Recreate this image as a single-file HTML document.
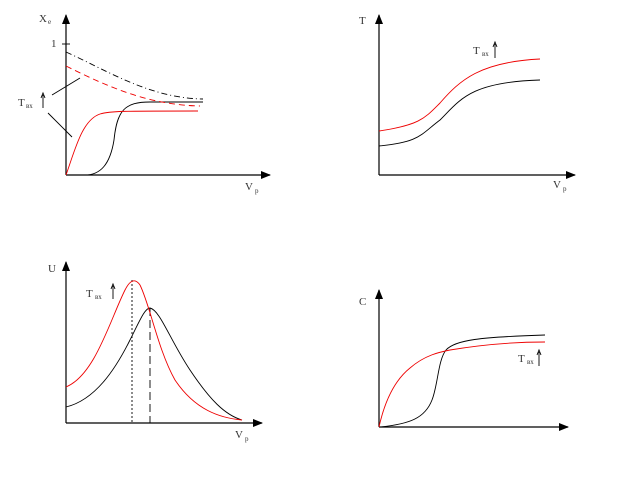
<!DOCTYPE html>
<html><head><meta charset="utf-8"><style>body{margin:0;background:#fff}svg{display:block}text{font-family:"Liberation Serif",serif;font-size:11px;fill:#333}</style></head><body>
<svg width="623" height="478" viewBox="0 0 623 478" xmlns="http://www.w3.org/2000/svg" fill="none" stroke-width="0.9">
<defs><marker id="a" markerWidth="10" markerHeight="8" refX="9" refY="4" orient="auto" markerUnits="userSpaceOnUse"><path d="M0,0 L10,4 L0,8z" fill="#000"/></marker></defs>
<!-- TL -->
<g stroke="#000">
<line x1="66" y1="175" x2="66" y2="15" marker-end="url(#a)" stroke-width="1.2"/>
<line x1="66" y1="175" x2="270" y2="175" marker-end="url(#a)" stroke-width="1.2"/>
<line x1="62" y1="44" x2="70" y2="44"/>
<path d="M66,52 C110,72 150,98 203,99" stroke-dasharray="6,3,1,3"/>
<path d="M85,175 C100,175 110,165 114,140 C117,110 125,102 150,102 L203,102"/>
<line x1="52" y1="95" x2="80" y2="78"/>
<line x1="48" y1="113" x2="72" y2="137"/>
</g>
<path d="M66,66 C110,88 150,105 200,106" stroke="#e00" stroke-dasharray="6,4"/>
<path d="M66,175 C75,150 82,120 100,114 C110,111 120,111 198,111" stroke="#e00"/>
<text x="39" y="22">X</text><text x="48" y="24" style="font-size:7px">e</text>
<text x="51" y="47">1</text>
<text x="18" y="106">T</text><text x="26" y="108" style="font-size:7px">вх</text>
<path d="M43,108 V95 M41,98 L43,93 L45,98" stroke="#000"/>
<text x="245" y="190">V</text><text x="255" y="193" style="font-size:7px">p</text>
<!-- TR -->
<g stroke="#000">
<line x1="379" y1="175" x2="379" y2="15" marker-end="url(#a)" stroke-width="1.2"/>
<line x1="379" y1="175" x2="575" y2="175" marker-end="url(#a)" stroke-width="1.2"/>
<path d="M379,146 C420,142 420,135 440,120 C460,100 470,82 540,80"/>
</g>
<path d="M379,131 C420,125 425,118 440,103 C460,80 480,62 540,59" stroke="#e00"/>
<text x="359" y="24">T</text>
<text x="473" y="54">T</text><text x="482" y="56" style="font-size:7px">вх</text>
<path d="M495,58 V44 M493,47 L495,42 L497,47" stroke="#000"/>
<text x="553" y="188">V</text><text x="563" y="191" style="font-size:7px">p</text>
<!-- BL -->
<g stroke="#000">
<line x1="66" y1="423" x2="66" y2="262" marker-end="url(#a)" stroke-width="1.2"/>
<line x1="66" y1="423" x2="262" y2="423" marker-end="url(#a)" stroke-width="1.2"/>
<path d="M66,407 C95,400 115,370 130,340 C140,320 145,308 150,308 C160,310 170,340 190,370 C210,400 225,415 242,420"/>
<line x1="132" y1="280" x2="132" y2="423" stroke-dasharray="2,2"/>
<line x1="150" y1="308" x2="150" y2="423" stroke-dasharray="8,4"/>
</g>
<path d="M66,387 C95,375 110,320 125,290 C130,280 135,278 140,285 C150,305 158,350 175,380 C195,410 220,418 242,420" stroke="#e00"/>
<text x="48" y="272">U</text>
<text x="86" y="297">T</text><text x="95" y="299" style="font-size:7px">вх</text>
<path d="M113,299 V286 M111,289 L113,284 L115,289" stroke="#000"/>
<text x="235" y="438">V</text><text x="245" y="441" style="font-size:7px">p</text>
<!-- BR -->
<g stroke="#000">
<line x1="379" y1="427" x2="379" y2="290" marker-end="url(#a)" stroke-width="1.2"/>
<line x1="379" y1="427" x2="568" y2="427" marker-end="url(#a)" stroke-width="1.2"/>
<path d="M380,427 C410,424 425,418 432,400 C438,385 438,360 446,350 C455,340 480,337 545,335"/>
</g>
<path d="M379,427 C385,400 395,380 410,368 C425,355 440,352 450,350 C480,345 510,342 545,342" stroke="#e00"/>
<text x="359" y="305">C</text>
<text x="518" y="362">T</text><text x="527" y="364" style="font-size:7px">вх</text>
<path d="M539,366 V352 M537,355 L539,350 L541,355" stroke="#000"/>
</svg>
</body></html>
